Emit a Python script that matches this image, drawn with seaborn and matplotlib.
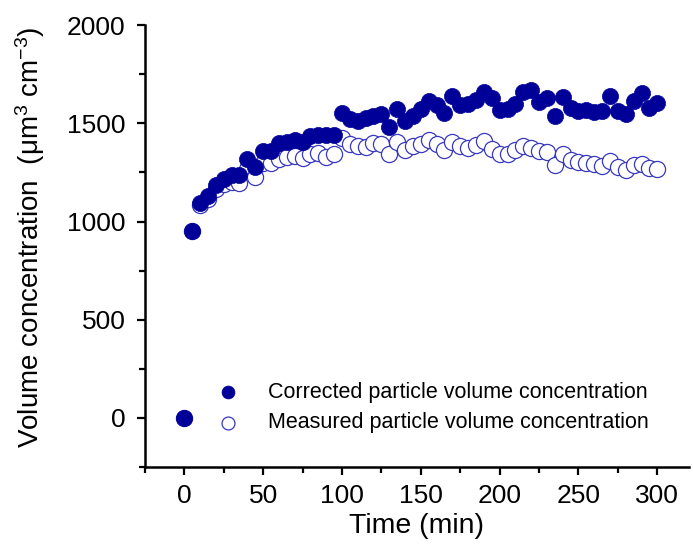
import matplotlib
matplotlib.use("Agg")
import matplotlib.pyplot as plt
import seaborn as sns
import pandas as pd
from matplotlib.ticker import MultipleLocator

time_min = [0, 5, 10, 15, 20, 25, 30, 35, 40, 45, 50, 55, 60, 65, 70, 75, 80, 85, 90, 95,
            100, 105, 110, 115, 120, 125, 130, 135, 140, 145, 150, 155, 160, 165, 170, 175,
            180, 185, 190, 195, 200, 205, 210, 215, 220, 225, 230, 235, 240, 245, 250, 255,
            260, 265, 270, 275, 280, 285, 290, 295, 300]

corrected = [0, 950, 1095, 1130, 1185, 1215, 1235, 1235, 1320, 1275, 1360, 1360, 1400, 1405,
             1415, 1405, 1435, 1440, 1440, 1440, 1550, 1520, 1510, 1525, 1535, 1545, 1480,
             1575, 1510, 1535, 1575, 1615, 1595, 1550, 1640, 1595, 1600, 1620, 1660, 1630,
             1570, 1575, 1600, 1660, 1670, 1610, 1630, 1535, 1635, 1580, 1565, 1570, 1560,
             1565, 1640, 1565, 1545, 1615, 1655, 1580, 1605]

measured = [0, 950, 1085, 1115, 1165, 1190, 1200, 1195, 1265, 1225, 1300, 1300, 1320, 1330,
            1335, 1325, 1345, 1350, 1330, 1345, 1425, 1395, 1385, 1380, 1400, 1395, 1345,
            1405, 1365, 1385, 1395, 1415, 1395, 1365, 1405, 1385, 1375, 1390, 1410, 1370,
            1345, 1345, 1365, 1385, 1375, 1360, 1355, 1290, 1345, 1315, 1305, 1300, 1295,
            1285, 1310, 1280, 1260, 1290, 1295, 1270, 1265]

labels = ["Corrected particle volume concentration", "Measured particle volume concentration"]

sns.set_style("ticks")
plt.rcParams['font.family'] = ['Liberation Sans', 'DejaVu Sans']
plt.rcParams['mathtext.default'] = 'regular'
plt.rcParams['text.color'] = 'black'
plt.rcParams['axes.labelcolor'] = 'black'

df_c = pd.DataFrame({"t": time_min, "v": corrected})
df_m = pd.DataFrame({"t": time_min, "v": measured})

fig = plt.figure(figsize=(6.93, 5.45), dpi=100)
ax = fig.add_axes([0.209, 0.143, 0.785, 0.811])

navy = "#000099"
sns.scatterplot(data=df_m, x="t", y="v", ax=ax, s=135, marker="o",
                facecolor="white", edgecolor="#3838c0", linewidth=0.9,
                label=labels[1], zorder=2)
sns.scatterplot(data=df_c, x="t", y="v", ax=ax, s=135, marker="o",
                color=navy, edgecolor=navy, linewidth=0.5,
                label=labels[0], zorder=3)

ax.set_xlim(-25, 320)
ax.set_ylim(-250, 2000)
ax.xaxis.set_major_locator(MultipleLocator(50))
ax.xaxis.set_minor_locator(MultipleLocator(25))
ax.yaxis.set_major_locator(MultipleLocator(500))
ax.yaxis.set_minor_locator(MultipleLocator(250))
ax.tick_params(which="major", direction="out", length=6, width=1.6, labelsize=19,
               colors="black", labelcolor="black")
ax.tick_params(which="minor", direction="out", length=4, width=1.6, colors="black")
ax.tick_params(axis="y", pad=8)
ax.tick_params(axis="x", pad=6)
for s in ["left", "bottom"]:
    ax.spines[s].set_linewidth(1.8)
    ax.spines[s].set_color("black")
sns.despine(ax=ax)

ax.set_xlabel("Time (min)", fontsize=20.5, labelpad=4, color="black")
ax.set_ylabel("Volume concentration  (μm$^{3}$ cm$^{-3}$)", fontsize=20, color="black")
ax.yaxis.set_label_coords(-0.18, 0.52)

handles, labs = ax.get_legend_handles_labels()
order = [labs.index(labels[0]), labs.index(labels[1])]
leg = ax.legend([handles[i] for i in order], [labs[i] for i in order],
                loc="lower left", bbox_to_anchor=(0.097, 0.057), frameon=False,
                fontsize=15.5, handletextpad=0.85, labelspacing=0.45, markerscale=0.8,
                borderaxespad=0, labelcolor="black")

fig.savefig("out.png", dpi=100)
